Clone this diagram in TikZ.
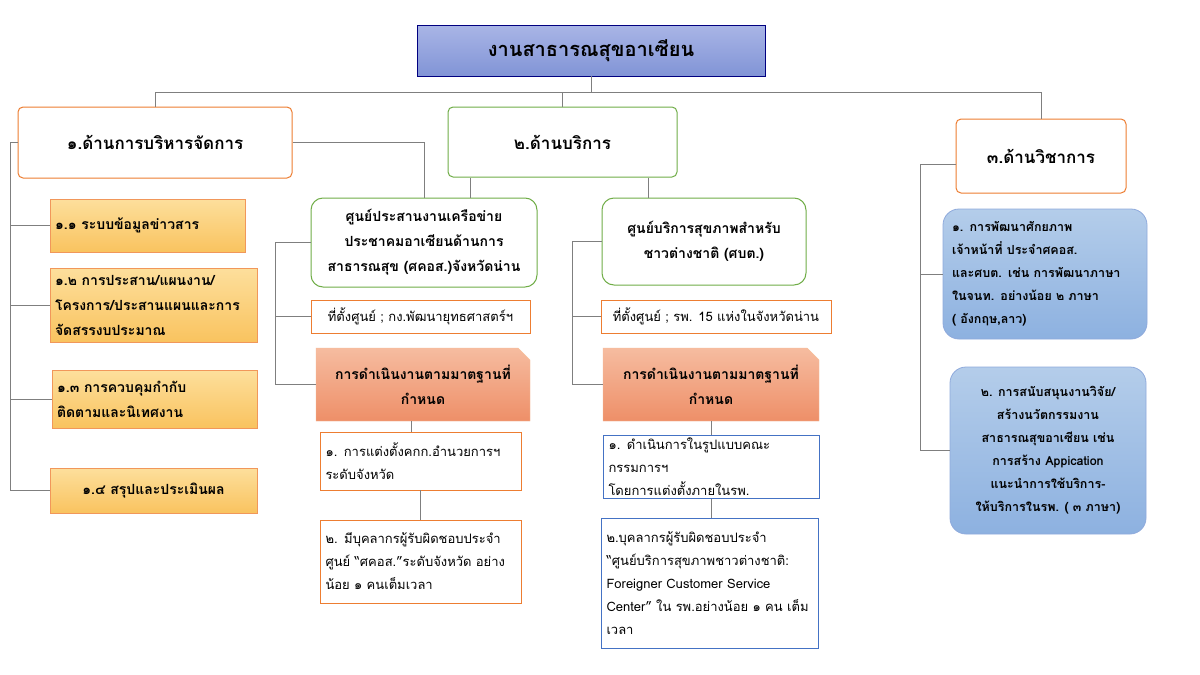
\documentclass[tikz,border=0pt]{standalone}
\usepackage{fontspec}
\newfontfamily\thai[Script=Thai]{Loma}
\usetikzlibrary{shapes.misc}
\definecolor{ln}{HTML}{7F7F7F}
\definecolor{ob}{HTML}{ED7D31}
\definecolor{gb}{HTML}{70AD47}
\definecolor{bb}{HTML}{4472C4}
\definecolor{st}{HTML}{FDDF9C}
\definecolor{sb}{HTML}{F9C35F}
\definecolor{rt}{HTML}{F6BCA0}
\definecolor{rb}{HTML}{EE8F68}
\definecolor{ct}{HTML}{B4CDEA}
\definecolor{cb}{HTML}{8DB1E0}
\definecolor{tt}{HTML}{A9B5E6}
\definecolor{tb}{HTML}{8194D6}
\tikzset{
 base/.style={align=center,inner sep=3pt,font=\thai\fontsize{13}{23}\selectfont},
 hdr/.style={base,draw=ob,line width=1pt,rounded corners=5pt,font=\thai\bfseries\fontsize{17}{20}\selectfont},
 grn/.style={base,draw=gb,line width=1pt,rounded corners=12pt,fill=white,font=\thai\bfseries\fontsize{14}{25}\selectfont},
 sub/.style={base,draw=ob!80,line width=0.8pt,top color=st,bottom color=sb,font=\thai\bfseries\fontsize{14}{25}\selectfont,align=left},
 loc/.style={base,draw=ob,line width=0.8pt,fill=white},
 std/.style={base,chamfered rectangle,chamfered rectangle corners=north east,chamfered rectangle xsep=6pt,chamfered rectangle ysep=6pt,draw=ob!50,top color=rt,bottom color=rb,font=\thai\bfseries\fontsize{14}{25}\selectfont},
 obx/.style={base,draw=ob,line width=0.8pt,fill=white,align=left},
 bbx/.style={base,draw=bb,line width=0.8pt,fill=white,align=left},
 cbx/.style={base,draw=bb!60,line width=0.8pt,rounded corners=16pt,top color=ct,bottom color=cb,font=\thai\bfseries\fontsize{12.5}{23}\selectfont},
 con/.style={draw=ln,line width=0.9pt}
}
\begin{document}
\begin{tikzpicture}[x=1pt,y=-1pt]
\useasboundingbox[fill=white] (0,0) rectangle (1200,675);
\node[base,draw=blue!50!black,line width=0.8pt,top color=tt,bottom color=tb,minimum width=348,minimum height=51,font=\thai\bfseries\fontsize{20}{22}\selectfont] (t) at (591,50.5) {งานสาธารณสุขอาเซียน};
\node[hdr,minimum width=274,minimum height=71] (h1) at (155,142.5) {๑.ด้านการบริหารจัดการ};
\node[hdr,draw=gb,minimum width=229,minimum height=70] (h2) at (562.5,142) {๒.ด้านบริการ};
\node[hdr,minimum width=170,minimum height=74] (h3) at (1041,156) {๓.ด้านวิชาการ};
\node[sub,minimum width=195,minimum height=53,text width=185] (s1) at (147.5,225.5) {๑.๑ ระบบข้อมูลข่าวสาร};
\node[sub,minimum width=207,minimum height=74,text width=197] (s2) at (153.5,305) {๑.๒ การประสาน/แผนงาน/\\โครงการ/ประสานแผนและการ\\จัดสรรงบประมาณ};
\node[sub,minimum width=205,minimum height=58,text width=195] (s3) at (154.5,399) {๑.๓ การควบคุมกำกับ\\ติดตามและนิเทศงาน};
\node[sub,minimum width=207,minimum height=45,align=center] (s4) at (153.5,490.5) {๑.๔ สรุปและประเมินผล};
\node[grn,minimum width=226,minimum height=89] (a) at (424,242.5) {ศูนย์ประสานงานเครือข่าย\\ประชาคมอาเซียนด้านการ\\สาธารณสุข (ศคอส.)จังหวัดน่าน};
\node[loc,minimum width=219,minimum height=33] (la) at (420.5,316.5) {ที่ตั้งศูนย์ ; กง.พัฒนายุทธศาสตร์ฯ};
\node[std,minimum width=214,minimum height=73] (sa) at (423,384.5) {การดำเนินงานตามมาตฐานที่\\กำหนด};
\node[obx,minimum width=201,minimum height=58,text width=190] (a1) at (420.5,461) {๑. การแต่งตั้งคกก.อำนวยการฯ\\ระดับจังหวัด};
\node[obx,minimum width=201,minimum height=83,text width=190] (a2) at (420.5,561.5) {๒. มีบุคลากรผู้รับผิดชอบประจำ\\ศูนย์ “ศคอส.”ระดับจังหวัด อย่าง\\น้อย ๑ คนเต็มเวลา};
\node[grn,minimum width=204,minimum height=87] (b) at (704,241.5) {ศูนย์บริการสุขภาพสำหรับ\\ชาวต่างชาติ (ศบต.)};
\node[loc,minimum width=230,minimum height=33] (lb) at (716,316.5) {ที่ตั้งศูนย์ ; รพ. 15 แห่งในจังหวัดน่าน};
\node[std,minimum width=216,minimum height=73] (sb) at (711,384.5) {การดำเนินงานตามมาตฐานที่\\กำหนด};
\node[bbx,minimum width=216,minimum height=58,text width=205] (b1) at (711,467) {๑. ดำเนินการในรูปแบบคณะ\\กรรมการฯ โดยการแต่งตั้งภายในรพ.};
\node[bbx,minimum width=217,minimum height=130,text width=206] (b2) at (709.5,583) {๒.บุคลากรผู้รับผิดชอบประจำ\\“ศูนย์บริการสุขภาพชาวต่างชาติ:\\Foreigner Customer Service\\Center” ใน รพ.อย่างน้อย ๑ คน เต็ม\\เวลา};
\node[cbx,minimum width=204,minimum height=130,text width=186,align=left] (c1) at (1045,274) {๑. การพัฒนาศักยภาพ\\เจ้าหน้าที่ ประจำศคอส.\\และศบต. เช่น การพัฒนาภาษา\\ในจนท. อย่างน้อย ๒ ภาษา\\( อังกฤษ,ลาว)};
\node[cbx,minimum width=196,minimum height=167] (c2) at (1048,450.5) {๒. การสนับสนุนงานวิจัย/\\สร้างนวัตกรรมงาน\\สาธารณสุขอาเซียน  เช่น\\การสร้าง Appication\\แนะนำการใช้บริการ-\\ให้บริการในรพ. ( ๓ ภาษา)};
% top connectors
\coordinate (bus) at (0,92);
\draw[con] (t.south) -- (t.south|-bus);
\draw[con] (h1.north) -- (h1.north|-bus) -- (h3.north|-bus) -- (h3.north);
\draw[con] (h2.north) -- (h2.north|-bus);
% left column
\coordinate (L) at (10,0);
\draw[con] (h1.west) -- (h1.west-|L) |- (s4.west);
\foreach \n in {s1,s2,s3} \draw[con] (\n.west) -- (\n.west-|L);
% center A
\draw[con] (h1.east) -| (a.north);
\draw[con] ([xshift=-92pt]h2.south) -- ([xshift=-92pt]h2.south|-a.north);
\coordinate (LA) at (275,0);
\draw[con] (a.west) -- (a.west-|LA) |- (sa.west);
\draw[con] (la.west) -- (la.west-|LA);
\draw[con] ([xshift=-12pt]sa.south) -- ([xshift=-12pt]sa.south|-a1.north);
\draw[con] (a1.south) -- (a2.north);
% center B
\draw[con] ([xshift=86pt]h2.south) -- ([xshift=86pt]h2.south|-b.north);
\coordinate (LB) at (572,0);
\draw[con] (b.west) -- (b.west-|LB) |- (sb.west);
\draw[con] (lb.west) -- (lb.west-|LB);
\draw[con] (sb.south) -- (b1.north);
\draw[con] (b1.south) -- (b1.south|-b2.north);
% right
\coordinate (LC) at (920,0);
\draw[con] ([yshift=-8pt]h3.west) -- ([yshift=-8pt]h3.west-|LC) |- (c2.west);
\draw[con] (c1.west) -- (c1.west-|LC);
\end{tikzpicture}
\end{document}
